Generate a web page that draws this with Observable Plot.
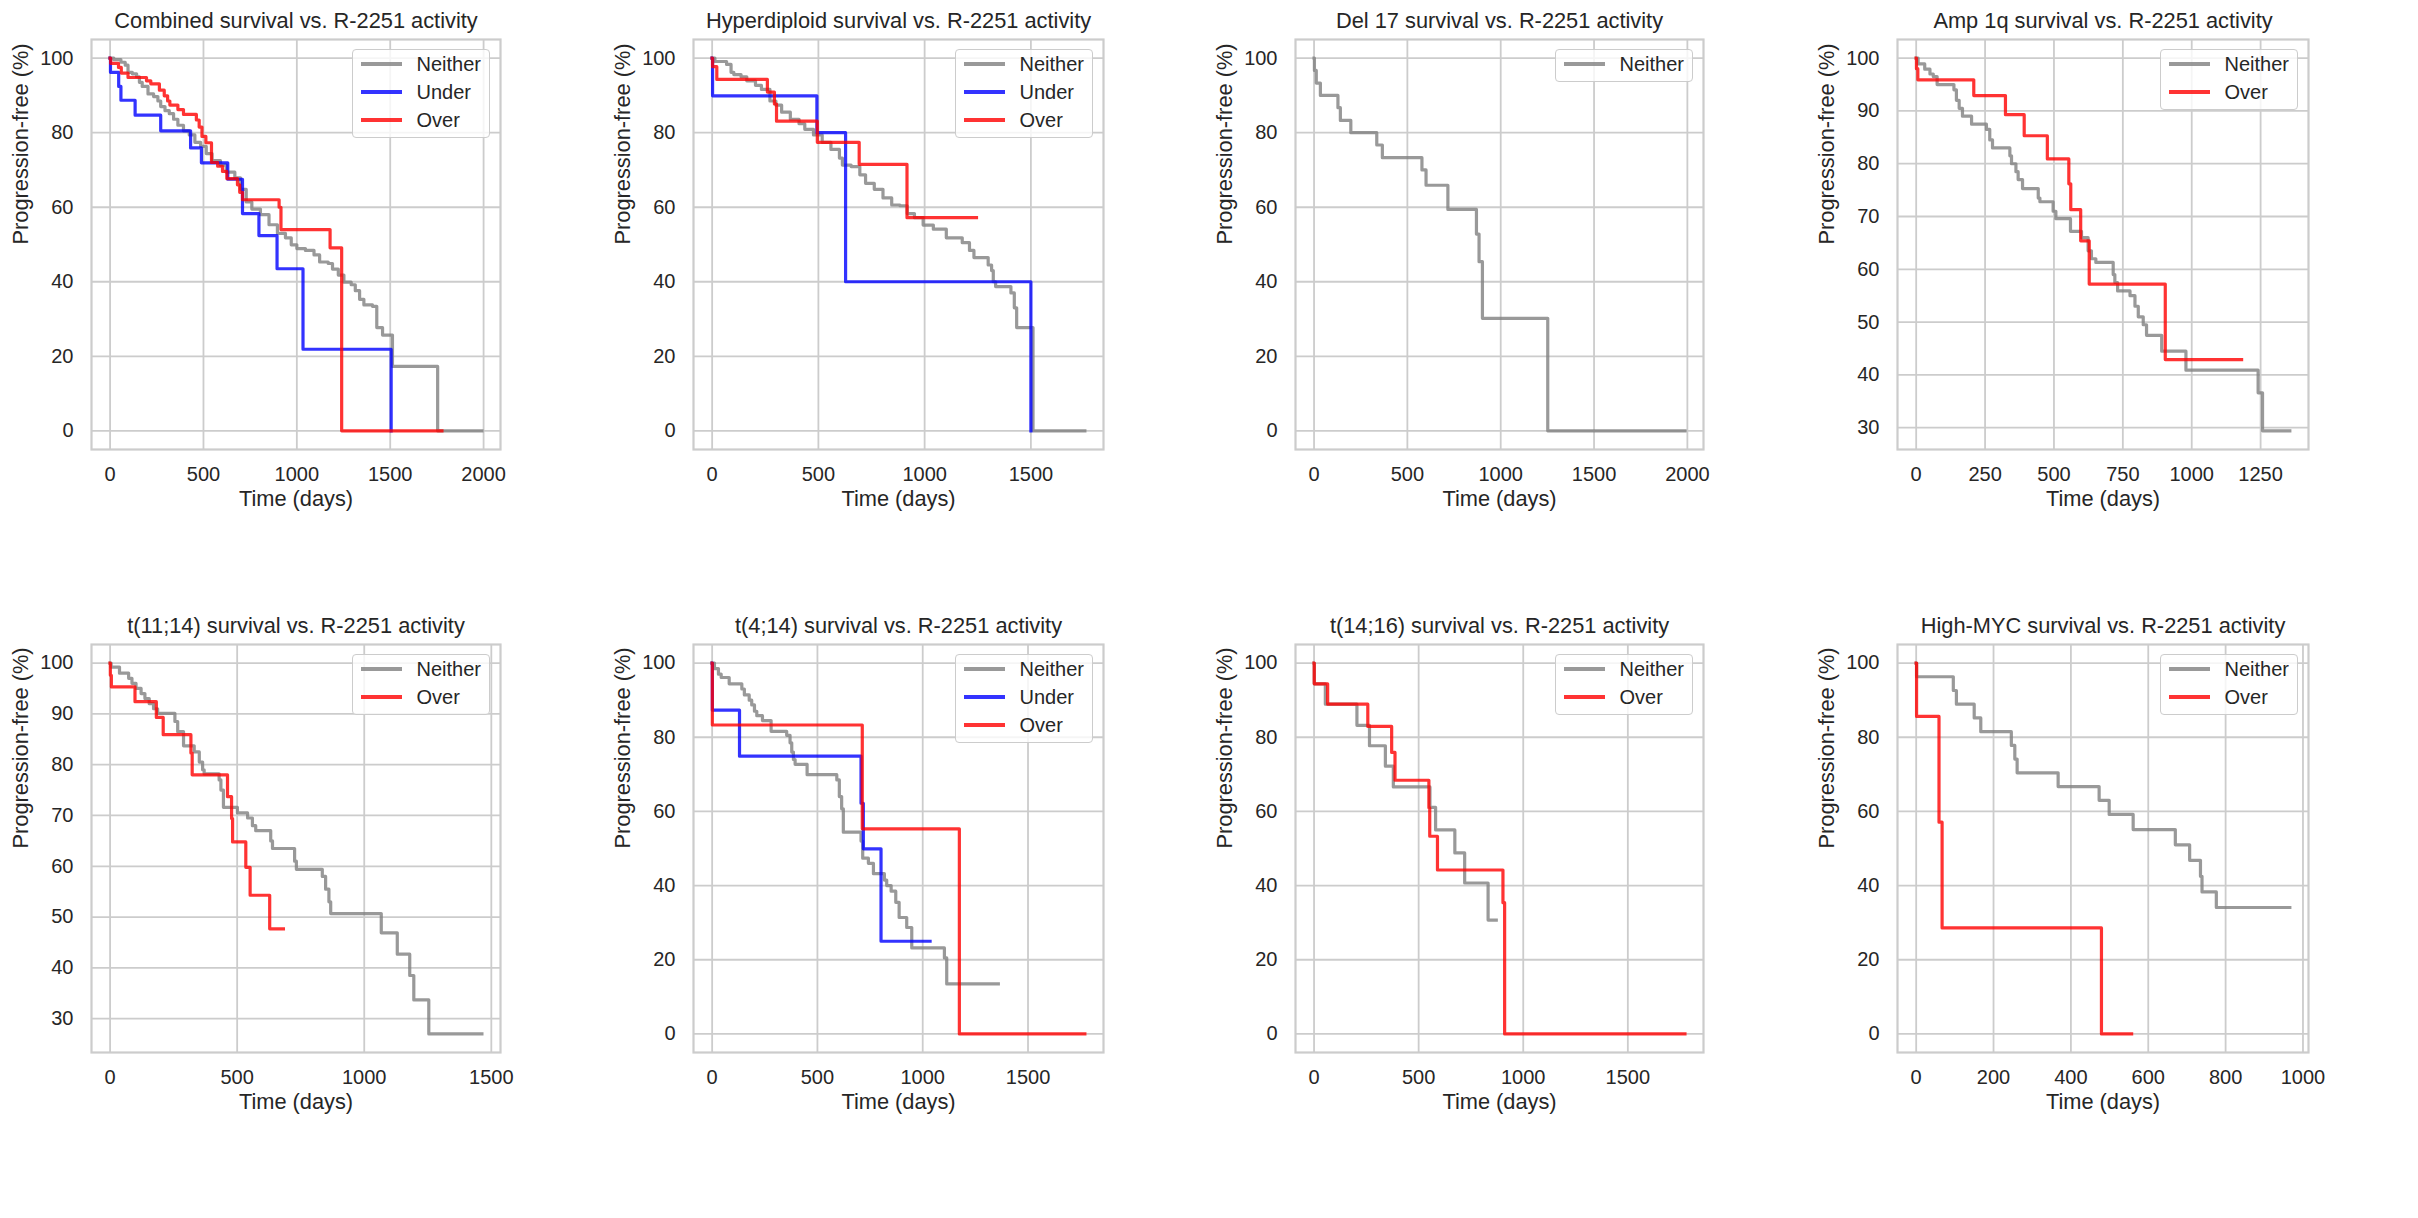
<!DOCTYPE html>
<html>
<head>
<meta charset="utf-8">
<script src="https://cdn.jsdelivr.net/npm/d3@7"></script>
<script src="https://cdn.jsdelivr.net/npm/@observablehq/plot@0.6"></script>
<style>
  body { margin: 0; background: #ffffff; }
  #page { position: relative; width: 2418px; height: 1218px; overflow: hidden;
          font-family: "Liberation Sans", Arial, sans-serif; color: #262626; }
  .panel { position: absolute; }
  .panel svg { display: block; overflow: visible; }
  .legend { position: absolute; background: rgba(255,255,255,0.8); border: 1px solid #cccccc;
            border-radius: 4px; padding: 0 8px 3px 8px; font-size: 20px; line-height: 28px;
            font-family: "Liberation Sans", Arial, sans-serif; color: #262626; }
  .legend .row { display: flex; align-items: center; height: 28px; white-space: nowrap; }
  .legend .sw { width: 41px; height: 3.2px; margin-right: 15px; opacity: 0.8; }
</style>
</head>
<body>
<div id="page"></div>
<script>
// ---------- tick labels ----------
const ticks0to2000 = [0, 500, 1000, 1500, 2000];
const ticks0to1500 = [0, 500, 1000, 1500];
const ticks0to1250 = [0, 250, 500, 750, 1000, 1250];
const ticks0to1000 = [0, 200, 400, 600, 800, 1000];
const pctTicks0 = [0, 20, 40, 60, 80, 100];
const pctTicks30 = [30, 40, 50, 60, 70, 80, 90, 100];

const xLabel = "Time (days)";
const yLabel = "Progression-free (%)";

const seriesNames = ["Neither", "Under", "Over"];
const seriesColors = ["gray", "blue", "red"];

// ---------- data: [time (days), progression-free (%)] ----------
const combinedNeither = [[0,100],[20,99.6],[58,98.9],[81,98.1],[96,96.2],[119,95.8],[142,95],[157,93.5],[172,92.4],[203,90.4],[233,89.7],[256,88.5],[271,87],[294,85.9],[317,85.1],[340,83.6],[363,82],[393,80.5],[424,79.4],[454,77.4],[485,76.3],[515,74.4],[546,72.5],[591,71.3],[622,69.4],[668,67.9],[698,64.8],[729,61.4],[759,59.5],[805,58],[851,55.3],[896,53],[939,51.8],[970,49.9],[1000,48.9],[1046,48.4],[1092,47.2],[1122,45.3],[1168,44.9],[1191,43.4],[1222,41.8],[1252,39.9],[1291,39.2],[1313,37.6],[1336,35.3],[1359,33.8],[1405,33.4],[1428,27.7],[1459,25.7],[1512,17.3],[1754,0],[1991,0]];
const combinedUnder = [[0,100],[2,96.2],[46,92.4],[58,88.7],[134,84.7],[271,80.5],[431,75.9],[489,71.9],[630,67.5],[709,58.3],[797,52.4],[894,43.5],[1033,21.9],[1505,0]];
const combinedOver = [[0,100],[3,98.6],[45,97.5],[60,96],[96,94.8],[195,93.9],[218,93.1],[264,91.4],[290,89.9],[308,88.5],[320,87.4],[363,86.2],[393,84.9],[462,83.4],[477,81.5],[492,79],[513,77.3],[543,72],[576,71],[602,69.6],[625,67.7],[682,66],[694,64],[709,62],[905,60],[915,54],[1178,49.1],[1240,0],[1777,0]];

const hyperNeither = [[0,100],[13,99.1],[68,98.3],[89,96.2],[102,95.6],[136,95],[163,93.9],[204,92.7],[232,91.6],[272,88.5],[300,87.4],[327,85.5],[368,83.6],[409,82.4],[436,80.9],[477,79.4],[518,77.4],[559,75.5],[599,73.2],[613,71.3],[654,70.9],[695,68.7],[722,66.4],[763,64.8],[804,62.5],[845,60.6],[884,60.4],[918,58.3],[952,57.2],[993,55.2],[1041,54.1],[1102,51.8],[1177,50.5],[1211,48.4],[1232,46.5],[1299,44.5],[1315,43],[1323,40],[1334,38.7],[1406,37],[1422,33],[1433,27.7],[1510,0],[1754,0]];
const hyperUnder = [[0,100],[2,89.9],[493,80],[628,40],[1500,0]];
const hyperOver = [[0,100],[2,97.7],[22,94.3],[260,90.9],[293,87.7],[303,83.1],[495,77.4],[692,71.5],[917,57.2],[1244,57.2]];

const del17Neither = [[0,100],[2,96.7],[12,93.3],[34,90],[128,86.7],[141,83.3],[197,80],[336,76.7],[366,73.3],[578,70],[600,65.9],[717,59.4],[870,52.8],[884,45.4],[902,30.2],[1252,0],[1987,0]];

const amp1qNeither = [[0,100],[7,98.9],[31,97.9],[50,97],[62,96.5],[76,95],[137,94],[146,92],[156,90.5],[168,89],[201,87.5],[255,86.5],[267,84.5],[277,83],[340,81.5],[346,80],[362,78.5],[370,77],[386,75.3],[443,73.5],[449,72.8],[497,71],[507,69.6],[560,67.2],[600,66],[624,63.5],[636,62],[652,61.3],[715,59],[721,57.5],[731,55.9],[776,55],[794,53],[806,51],[824,49.5],[836,47.5],[891,44.5],[979,40.9],[1241,36.6],[1257,29.4],[1356,29.4]];
const amp1qOver = [[0,100],[1,98],[6,95.9],[209,92.9],[324,89.3],[392,85.3],[476,80.9],[554,76.2],[561,71.3],[597,65.4],[628,57.2],[904,42.9],[1181,42.9]];

const t1114Neither = [[0,100],[4,99.2],[37,98],[73,97],[86,96],[102,95],[122,94],[137,93],[154,92],[171,91],[187,90.1],[255,88.5],[266,86.5],[289,83.7],[331,82.5],[351,80.5],[364,79],[370,78.2],[429,77],[436,75],[446,71.6],[501,70.5],[541,69.5],[560,68],[573,67],[632,65],[639,63.5],[726,61],[733,59.4],[835,58],[848,55.5],[861,53],[868,50.7],[1067,46.9],[1130,42.7],[1179,38.5],[1195,33.7],[1254,27],[1463,27]];
const t1114Over = [[0,100],[1,97.6],[5,95.3],[98,92.4],[182,89.3],[209,85.9],[318,82.3],[323,78],[462,73.7],[478,69.4],[482,64.8],[534,59.8],[551,54.3],[628,47.7],[682,47.7]];

const t414Neither = [[0,100],[11,98.5],[30,97],[43,96.1],[81,94.4],[141,93],[153,91.4],[176,90],[188,88.7],[201,87],[212,85.8],[239,84.5],[280,81.6],[354,80.5],[370,78.5],[378,76],[386,74],[394,72.7],[451,69.9],[592,68.5],[604,64],[615,60.7],[623,54.4],[707,52],[715,47.4],[742,46],[766,43.2],[818,41.5],[829,40],[850,38.5],[872,35.5],[888,31.4],[924,28.7],[948,23.2],[1103,20.5],[1114,13.5],[1359,13.5]];
const t414Under = [[0,100],[1,87.3],[130,74.9],[707,62.2],[718,49.9],[802,25],[1035,25]];
const t414Over = [[0,100],[1,83.3],[713,55.3],[1174,0],[1770,0]];

const t1416Neither = [[0,100],[1,94.4],[54,88.9],[205,83.2],[265,77.7],[341,72.2],[379,66.6],[554,61.1],[581,55],[673,48.8],[720,40.7],[832,30.7],[871,30.7]];
const t1416Over = [[0,100],[1,94.4],[65,88.9],[257,82.9],[371,75.9],[387,68.4],[549,61],[553,53.3],[590,44.2],[903,35.4],[911,0],[1773,0]];

const mycNeither = [[0,100],[1,96.3],[96,92.6],[104,88.9],[150,85.2],[167,81.5],[246,77.8],[255,74.1],[261,70.4],[367,66.7],[473,63],[499,59.2],[561,55.1],[670,51],[707,46.8],[735,42.5],[739,38.3],[776,34.1],[966,34.1]];
const mycOver = [[0,100],[1,85.6],[59,57.1],[67,28.6],[479,0],[557,0]];

// ---------- panels ----------
const panels = [
  {title: "Combined survival vs. R-2251 activity", xTicks: ticks0to2000, yTicks: pctTicks0,
   series: [["Neither", combinedNeither], ["Under", combinedUnder], ["Over", combinedOver]]},
  {title: "Hyperdiploid survival vs. R-2251 activity", xTicks: ticks0to1500, yTicks: pctTicks0,
   series: [["Neither", hyperNeither], ["Under", hyperUnder], ["Over", hyperOver]]},
  {title: "Del 17 survival vs. R-2251 activity", xTicks: ticks0to2000, yTicks: pctTicks0,
   series: [["Neither", del17Neither]]},
  {title: "Amp 1q survival vs. R-2251 activity", xTicks: ticks0to1250, yTicks: pctTicks30,
   series: [["Neither", amp1qNeither], ["Over", amp1qOver]]},
  {title: "t(11;14) survival vs. R-2251 activity", xTicks: ticks0to1500, yTicks: pctTicks30,
   series: [["Neither", t1114Neither], ["Over", t1114Over]]},
  {title: "t(4;14) survival vs. R-2251 activity", xTicks: ticks0to1500, yTicks: pctTicks0,
   series: [["Neither", t414Neither], ["Under", t414Under], ["Over", t414Over]]},
  {title: "t(14;16) survival vs. R-2251 activity", xTicks: ticks0to1500, yTicks: pctTicks0,
   series: [["Neither", t1416Neither], ["Over", t1416Over]]},
  {title: "High-MYC survival vs. R-2251 activity", xTicks: ticks0to1000, yTicks: pctTicks0,
   series: [["Neither", mycNeither], ["Over", mycOver]]}
];

// ---------- layout (frame positions in page pixels) ----------
const colLeft = [91, 693, 1295, 1897];
const colWidth = [409, 410, 408, 411];
const rowTop = [39, 644];
const rowHeight = [410, 408];
const ML = 90, MR = 10, MT = 38, MB = 70;
const FONT = '"Liberation Sans", Arial, sans-serif';

const colorOf = name => seriesColors[seriesNames.indexOf(name)];
const plainNumber = d => String(d);
const page = document.getElementById("page");

panels.forEach((p, i) => {
  const col = i % 4, row = Math.floor(i / 4);
  const fw = colWidth[col], fh = rowHeight[row];
  const all = p.series.flatMap(s => s[1]);
  const tMax = d3.max(all, d => d[0]);
  const sMin = d3.min(all, d => d[1]);
  const xPad = 0.05 * tMax, yPad = 0.05 * (100 - sMin);

  const chart = Plot.plot({
    width: ML + fw + MR,
    height: MT + fh + MB,
    marginLeft: ML, marginRight: MR, marginTop: MT, marginBottom: MB,
    x: {domain: [0 - xPad, tMax + xPad]},
    y: {domain: [sMin - yPad, 100 + yPad]},
    style: {fontFamily: FONT, color: "#262626", background: "transparent", overflow: "visible"},
    marks: [
      Plot.gridX(p.xTicks, {stroke: "#cccccc", strokeOpacity: 1, strokeWidth: 1.8}),
      Plot.gridY(p.yTicks, {stroke: "#cccccc", strokeOpacity: 1, strokeWidth: 1.8}),
      ...p.series.map(([name, data]) => Plot.line(data, {
        x: d => d[0], y: d => d[1], curve: "step-after",
        stroke: colorOf(name), strokeOpacity: 0.8, strokeWidth: 3.2,
        strokeLinecap: "square", strokeLinejoin: "round"
      })),
      Plot.frame({stroke: "#cccccc", strokeWidth: 2.2}),
      Plot.axisX(p.xTicks, {tickSize: 0, tickPadding: 17, fontSize: 20, label: null, tickFormat: plainNumber}),
      Plot.axisY(p.yTicks, {tickSize: 0, tickPadding: 18, fontSize: 20, label: null, tickFormat: plainNumber}),
      Plot.text([p.title], {text: d => d, frameAnchor: "top", dy: -18, lineAnchor: "middle", fontSize: 21.8}),
      Plot.text([xLabel], {text: d => d, frameAnchor: "bottom", dy: 50, lineAnchor: "middle", fontSize: 21.8}),
      Plot.text([yLabel], {text: d => d, frameAnchor: "left", dx: -70.5, rotate: -90, lineAnchor: "middle", fontSize: 21.8})
    ]
  });

  const holder = document.createElement("div");
  holder.className = "panel";
  holder.style.left = (colLeft[col] - ML) + "px";
  holder.style.top = (rowTop[row] - MT) + "px";
  holder.style.width = (ML + fw + MR) + "px";
  holder.style.height = (MT + fh + MB) + "px";
  holder.appendChild(chart);

  const legend = document.createElement("div");
  legend.className = "legend";
  legend.style.right = (MR + 10) + "px";
  legend.style.top = (MT + 10) + "px";
  p.series.forEach(([name]) => {
    const r = document.createElement("div");
    r.className = "row";
    const sw = document.createElement("span");
    sw.className = "sw";
    sw.style.background = colorOf(name);
    const lab = document.createElement("span");
    lab.textContent = name;
    r.appendChild(sw);
    r.appendChild(lab);
    legend.appendChild(r);
  });
  holder.appendChild(legend);
  page.appendChild(holder);
});
</script>
</body>
</html>
